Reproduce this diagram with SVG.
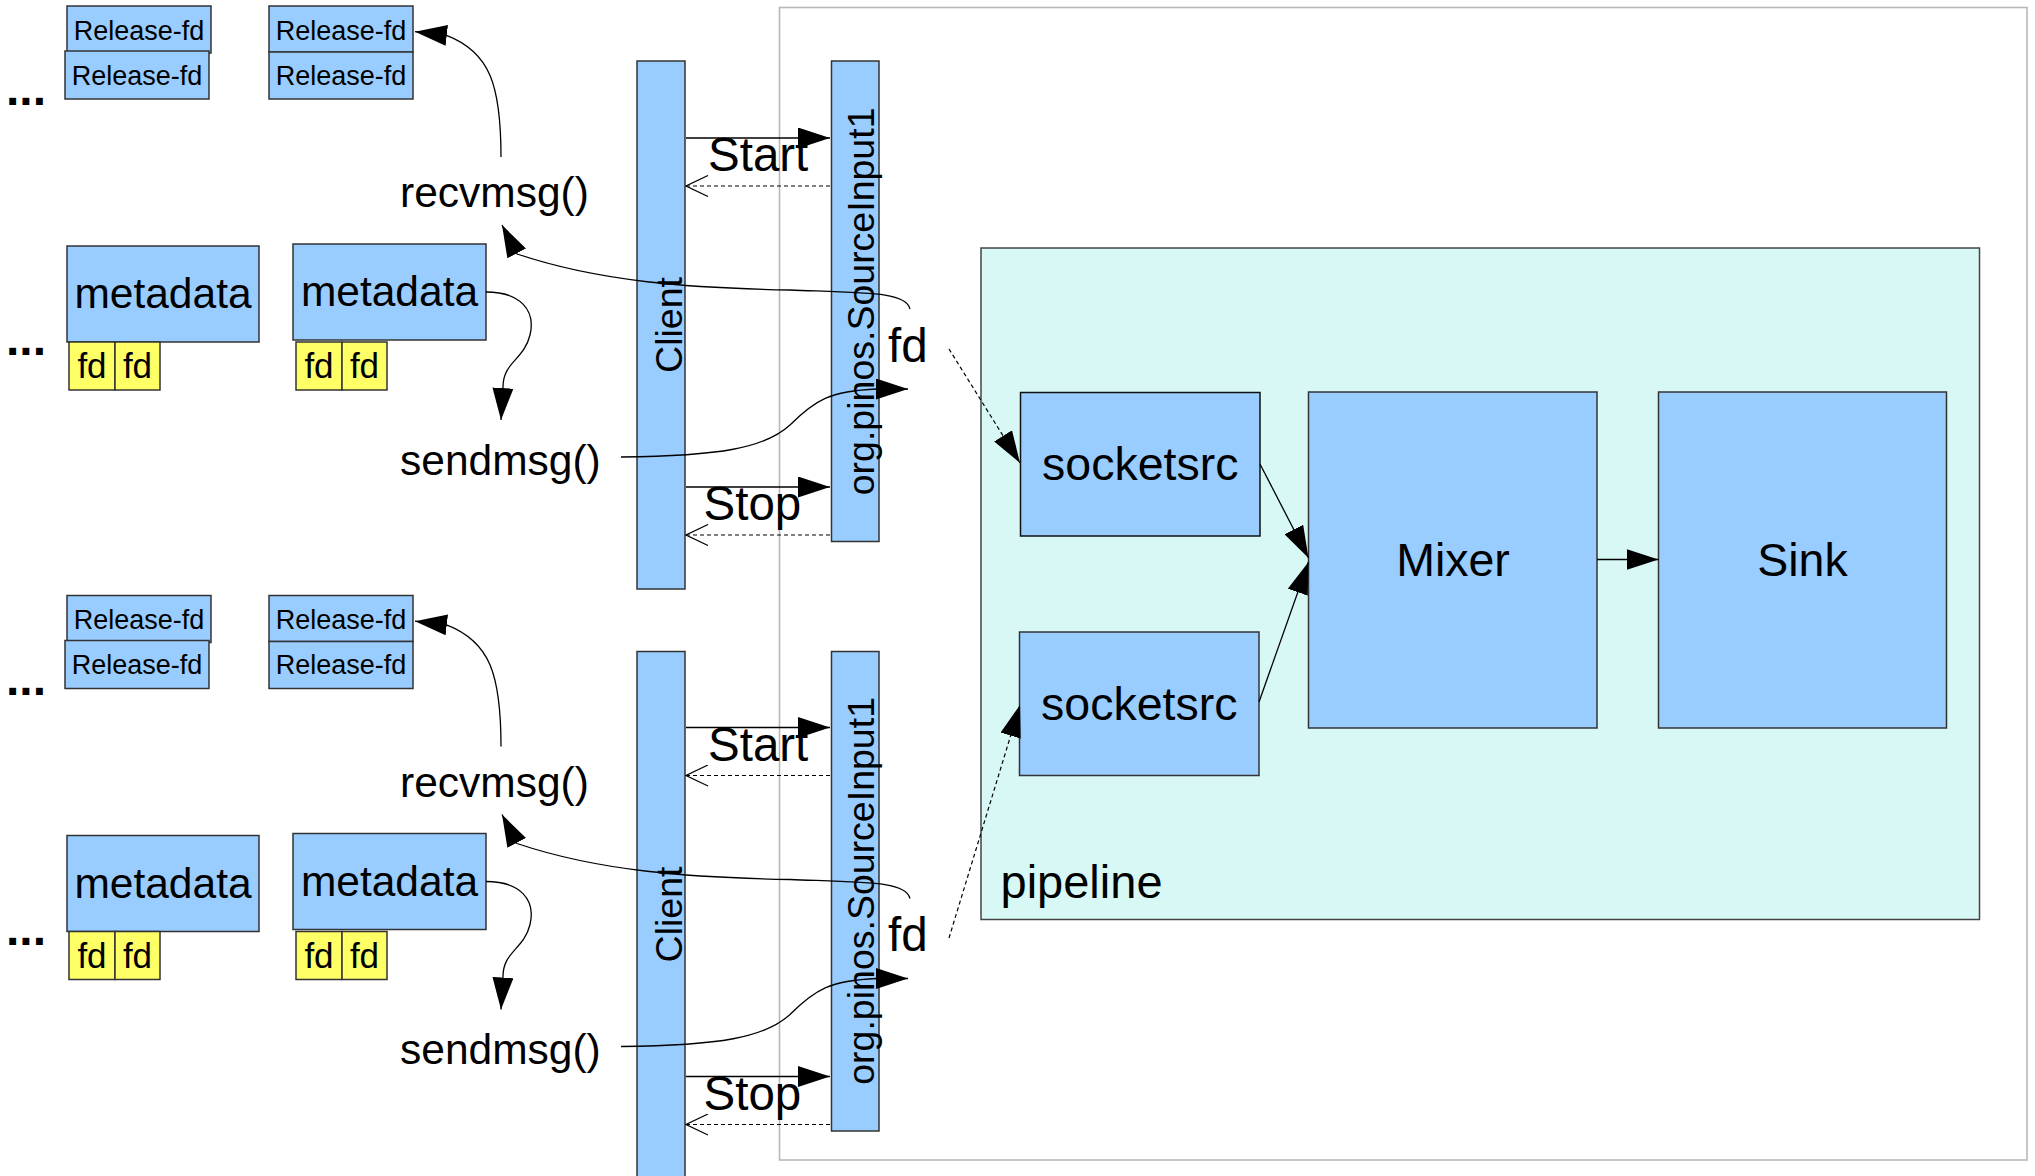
<svg xmlns="http://www.w3.org/2000/svg" width="2035" height="1176" viewBox="0 0 2035 1176">
<style>
text{font-family:"Liberation Sans",Arial,sans-serif;fill:#000}
.box{fill:#99ccff;stroke:#333;stroke-width:1.5}
.fdb{fill:#ffff66;stroke:#333;stroke-width:1.5}
.pipe{fill:#d7f8f5;stroke:#444;stroke-width:1.5}
.outer{fill:none;stroke:#b8b8b8;stroke-width:1.6}
.ln{fill:none;stroke:#000;stroke-width:1.3}
.dl{fill:none;stroke:#000;stroke-width:1.2;stroke-dasharray:4 3}
.a{marker-end:url(#ah)}
.o{marker-end:url(#oa)}
.rf{font-size:27px;text-anchor:middle}
.md{font-size:42.5px;text-anchor:middle}
.fdt{font-size:35px;text-anchor:middle}
.call{font-size:42.5px}
.lbl{font-size:47.5px}
.dots{font-size:48px;font-weight:bold}
.bar{font-size:37.5px;text-anchor:middle}
.big{font-size:46.5px;text-anchor:middle}
</style>
<defs>
<marker id="ah" viewBox="0 0 32 21" refX="32" refY="10.5" markerWidth="32" markerHeight="21" markerUnits="userSpaceOnUse" orient="auto"><path d="M0,0 L32,10.5 L0,21 z" fill="#000"/></marker>
<marker id="oa" viewBox="0 0 24 22" refX="23" refY="11" markerWidth="24" markerHeight="22" markerUnits="userSpaceOnUse" orient="auto"><path d="M1,0.5 L23,11 L1,21.5" fill="none" stroke="#000" stroke-width="1.2"/></marker>
</defs>
<rect width="2035" height="1176" fill="#fff"/>
<g id="server-area"><rect class="outer" x="779.5" y="7.5" width="1247.5" height="1152.5"/></g>
<g id="pipeline">
<rect class="pipe" x="981" y="248" width="998.5" height="671.5"/>
<text x="1000.5" y="898" style="font-size:47px">pipeline</text>
</g>
<g id="socketsrc1"><rect class="box" x="1020.5" y="392.5" width="239.5" height="143.5" style="stroke:#111"/><text class="big" x="1140.3" y="480">socketsrc</text></g>
<g id="socketsrc2"><rect class="box" x="1019.5" y="632" width="239.5" height="143.5"/><text class="big" x="1139.3" y="720">socketsrc</text></g>
<g id="mixer"><rect class="box" x="1308.5" y="392" width="288.5" height="336"/><text class="big" x="1453" y="576">Mixer</text></g>
<g id="sink"><rect class="box" x="1658.5" y="392" width="288" height="336"/><text class="big" x="1802.5" y="576">Sink</text></g>

<g id="section1">
<g id="dots-release-1"><text class="dots" x="6" y="105">...</text></g>
<g id="release-old-1"><rect class="box" x="67" y="6" width="144" height="47"/><text class="rf" x="139" y="39.5">Release-fd</text></g>
<g id="release-old-2"><rect class="box" x="65" y="51" width="144" height="48"/><text class="rf" x="137" y="84.5">Release-fd</text></g>
<g id="release-new-1"><rect class="box" x="269" y="6" width="144" height="46"/><text class="rf" x="341" y="39.5">Release-fd</text></g>
<g id="release-new-2"><rect class="box" x="269" y="52" width="144" height="47"/><text class="rf" x="341" y="84.5">Release-fd</text></g>
<g id="recvmsg-1"><text class="call" x="400" y="207">recvmsg()</text></g>
<g id="dots-meta-1"><text class="dots" x="6" y="355">...</text></g>
<g id="metadata-old"><rect class="box" x="67" y="246" width="192" height="96"/><text class="md" x="163" y="308">metadata</text>
<rect class="fdb" x="69" y="342" width="46" height="48"/><text class="fdt" x="92" y="378">fd</text>
<rect class="fdb" x="115" y="342" width="45" height="48"/><text class="fdt" x="137.5" y="378">fd</text></g>
<g id="metadata-new"><rect class="box" x="293" y="244" width="193" height="96"/><text class="md" x="389.5" y="306">metadata</text>
<rect class="fdb" x="296" y="342" width="46" height="48"/><text class="fdt" x="319" y="378">fd</text>
<rect class="fdb" x="342" y="342" width="45" height="48"/><text class="fdt" x="364.5" y="378">fd</text></g>
<g id="sendmsg-1"><text class="call" x="400" y="474.5">sendmsg()</text></g>
<g id="client-1"><rect class="box" x="637" y="61" width="48" height="528"/><text class="bar" transform="translate(682,325) rotate(-90)">Client</text></g>
<g id="source-input-1"><rect class="box" x="831.5" y="61" width="47.5" height="480.5"/><text class="bar" transform="translate(873.5,301.4) rotate(-90)">org.pinos.SourceInput1</text></g>
<g id="fd-1"><text class="lbl" x="888" y="361.6">fd</text></g>
</g>

<g id="section2" transform="translate(0,589.5)">
<g id="dots-release-2"><text class="dots" x="6" y="105">...</text></g>
<g id="release-old-3"><rect class="box" x="67" y="6" width="144" height="47"/><text class="rf" x="139" y="39.5">Release-fd</text></g>
<g id="release-old-4"><rect class="box" x="65" y="51" width="144" height="48"/><text class="rf" x="137" y="84.5">Release-fd</text></g>
<g id="release-new-3"><rect class="box" x="269" y="6" width="144" height="46"/><text class="rf" x="341" y="39.5">Release-fd</text></g>
<g id="release-new-4"><rect class="box" x="269" y="52" width="144" height="47"/><text class="rf" x="341" y="84.5">Release-fd</text></g>
<g id="recvmsg-2"><text class="call" x="400" y="207">recvmsg()</text></g>
<g id="dots-meta-2"><text class="dots" x="6" y="355">...</text></g>
<g id="metadata-old-2"><rect class="box" x="67" y="246" width="192" height="96"/><text class="md" x="163" y="308">metadata</text>
<rect class="fdb" x="69" y="342" width="46" height="48"/><text class="fdt" x="92" y="378">fd</text>
<rect class="fdb" x="115" y="342" width="45" height="48"/><text class="fdt" x="137.5" y="378">fd</text></g>
<g id="metadata-new-2"><rect class="box" x="293" y="244" width="193" height="96"/><text class="md" x="389.5" y="306">metadata</text>
<rect class="fdb" x="296" y="342" width="46" height="48"/><text class="fdt" x="319" y="378">fd</text>
<rect class="fdb" x="342" y="342" width="45" height="48"/><text class="fdt" x="364.5" y="378">fd</text></g>
<g id="sendmsg-2"><text class="call" x="400" y="474.5">sendmsg()</text></g>
<g id="client-2"><rect class="box" x="637" y="62" width="48" height="528"/><text class="bar" transform="translate(682,325) rotate(-90)">Client</text></g>
<g id="source-input-2"><rect class="box" x="831.5" y="62" width="47.5" height="479.5"/><text class="bar" transform="translate(873.5,301.4) rotate(-90)">org.pinos.SourceInput1</text></g>
<g id="fd-2"><text class="lbl" x="888" y="361.6">fd</text></g>
</g>

<g id="connectors">
<g id="conn-section1">
<path class="ln a" d="M501,157 C501,85 490,52 446.5,35.3 L415,31.7"/>
<path class="ln a" d="M486,292 C520,292 536,310 530,335 C524,360 503,362 503,387 L501,420"/>
<path class="ln a" d="M621,457 C720,456 765,448 790,425 C815,400 830,391 877,389 L908,389"/>
<path class="ln a" d="M910,309 C906,292 870,293 790,290 C690,288 600,282 517,254 L502,225"/>
<path class="ln a" d="M686,138 L830,138"/>
<text class="lbl" x="708" y="171">Start</text>
<path class="dl o" d="M830,186 L686,186"/>
<path class="ln a" d="M686,487 L830,487"/>
<text class="lbl" x="703.5" y="520">Stop</text>
<path class="dl o" d="M830,535 L686,535"/>
</g>
<g id="conn-section2" transform="translate(0,589.5)">
<path class="ln a" d="M501,157 C501,85 490,52 446.5,35.3 L415,31.7"/>
<path class="ln a" d="M486,292 C520,292 536,310 530,335 C524,360 503,362 503,387 L501,420"/>
<path class="ln a" d="M621,457 C720,456 765,448 790,425 C815,400 830,391 877,389 L908,389"/>
<path class="ln a" d="M910,309 C906,292 870,293 790,290 C690,288 600,282 517,254 L502,225"/>
<path class="ln a" d="M686,138 L830,138"/>
<text class="lbl" x="708" y="171">Start</text>
<path class="dl o" d="M830,186 L686,186"/>
<path class="ln a" d="M686,487 L830,487"/>
<text class="lbl" x="703.5" y="520">Stop</text>
<path class="dl o" d="M830,535 L686,535"/>
</g>
<path class="dl a" d="M949,349 L1020,463"/>
<path class="dl a" d="M949,938 L1020,705"/>
<path class="ln a" d="M1260,464 L1308.5,558"/>
<path class="ln a" d="M1259,702 L1308.5,562"/>
<path class="ln a" d="M1597,559.5 L1658.5,559.5"/>
</g>
</svg>
